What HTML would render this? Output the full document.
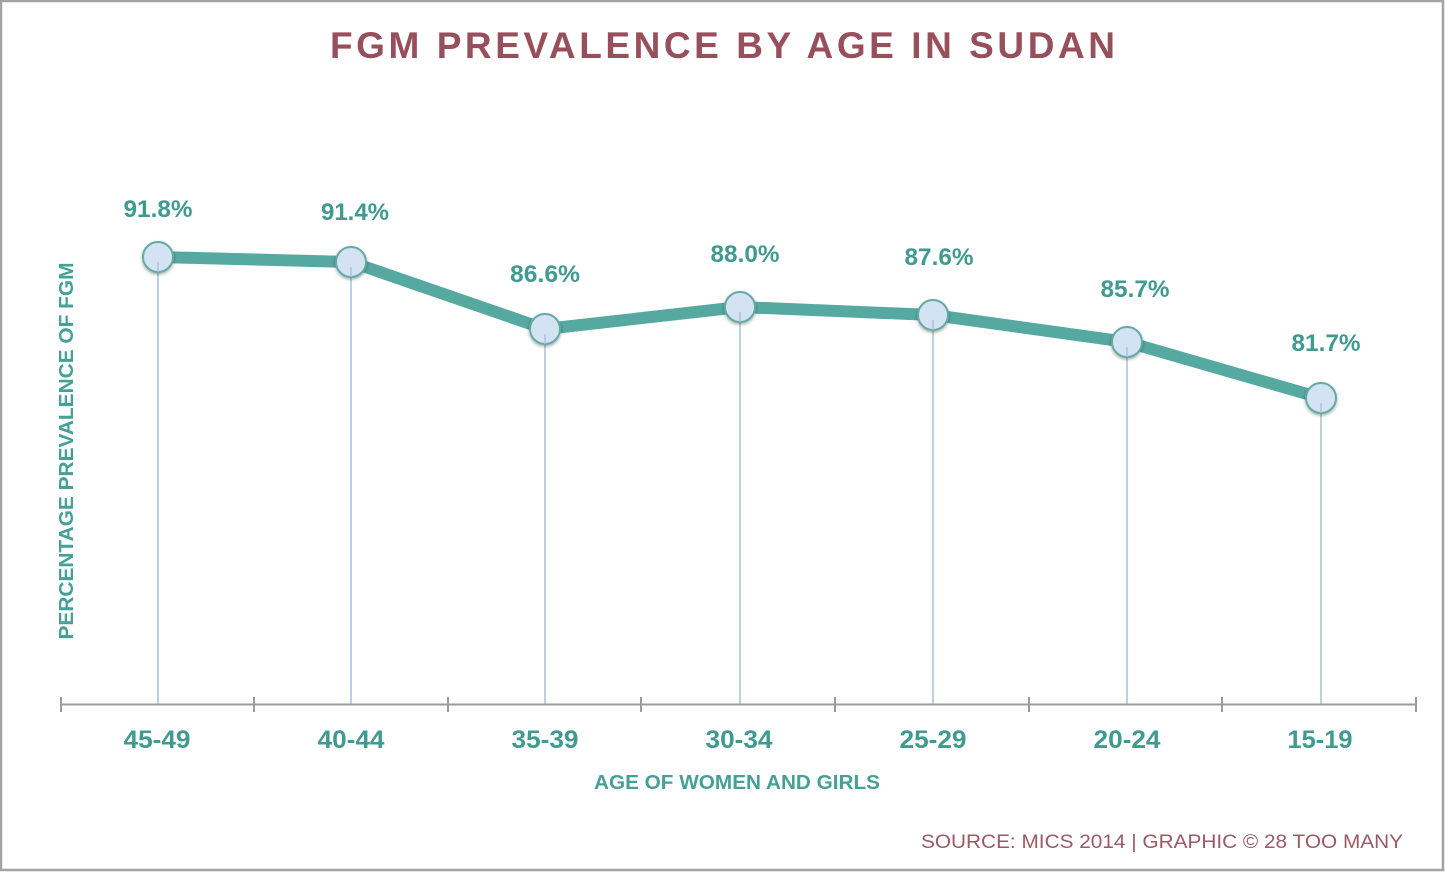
<!DOCTYPE html>
<html>
<head>
<meta charset="utf-8">
<style>
  html,body{margin:0;padding:0;background:#fff;}
  svg{display:block;}
</style>
</head>
<body>
<svg width="1445" height="872" viewBox="0 0 1445 872" xmlns="http://www.w3.org/2000/svg">
  <defs>
    <filter id="sh" x="-50%" y="-50%" width="200%" height="200%">
      <feDropShadow dx="0" dy="1.5" stdDeviation="1.5" flood-color="#000" flood-opacity="0.35"/>
    </filter>
  </defs>
  <rect x="0" y="0" width="1445" height="872" fill="#fff"/>
  <!-- border -->
  <rect x="1" y="1" width="1442" height="869" fill="none" stroke="#a3a3a3" stroke-width="2.5"/>

  <!-- title -->
  <text x="330" y="58" font-family="Liberation Sans, sans-serif" font-weight="bold" font-size="37" fill="#984f5c" textLength="785" lengthAdjust="spacing">FGM PREVALENCE BY AGE IN SUDAN</text>

  <!-- y axis title -->
  <text transform="translate(73,451) rotate(-90)" text-anchor="middle" font-family="Liberation Sans, sans-serif" font-weight="bold" font-size="20" fill="#45a096" textLength="377" lengthAdjust="spacingAndGlyphs">PERCENTAGE PREVALENCE OF FGM</text>

  <!-- drop lines -->
  <g stroke="#a9c2dc" stroke-width="1.5">
    <line x1="158" y1="257" x2="158" y2="704"/>
    <line x1="351" y1="262" x2="351" y2="704"/>
    <line x1="545" y1="329" x2="545" y2="704"/>
    <line x1="740" y1="307" x2="740" y2="704"/>
    <line x1="933" y1="315" x2="933" y2="704"/>
    <line x1="1127" y1="342" x2="1127" y2="704"/>
    <line x1="1321" y1="398" x2="1321" y2="704"/>
  </g>

  <!-- x axis -->
  <g stroke="#9b9b9b" stroke-width="2">
    <line x1="61" y1="704.5" x2="1416" y2="704.5"/>
    <line x1="61" y1="697" x2="61" y2="712"/>
    <line x1="254" y1="697" x2="254" y2="712"/>
    <line x1="448" y1="697" x2="448" y2="712"/>
    <line x1="641" y1="697" x2="641" y2="712"/>
    <line x1="835" y1="697" x2="835" y2="712"/>
    <line x1="1029" y1="697" x2="1029" y2="712"/>
    <line x1="1222" y1="697" x2="1222" y2="712"/>
    <line x1="1416" y1="697" x2="1416" y2="712"/>
  </g>

  <!-- series line -->
  <polyline points="158,257 351,262 545,329 740,307 933,315 1127,342 1321,398" fill="none" stroke="#56a9a0" stroke-width="12" stroke-linejoin="round" stroke-linecap="round"/>

  <!-- markers -->
  <g fill="#d4e3f4" stroke="#63aba3" stroke-width="2" filter="url(#sh)">
    <circle cx="158" cy="257" r="15"/>
    <circle cx="351" cy="262" r="15"/>
    <circle cx="545" cy="329" r="15"/>
    <circle cx="740" cy="307" r="15"/>
    <circle cx="933" cy="315" r="15"/>
    <circle cx="1127" cy="342" r="15"/>
    <circle cx="1321" cy="398" r="15"/>
  </g>
  <g stroke="#a9c2dc" stroke-width="1.5">
    <line x1="158" y1="262" x2="158" y2="272"/>
    <line x1="351" y1="267" x2="351" y2="277"/>
    <line x1="545" y1="334" x2="545" y2="344"/>
    <line x1="740" y1="312" x2="740" y2="322"/>
    <line x1="933" y1="320" x2="933" y2="330"/>
    <line x1="1127" y1="347" x2="1127" y2="357"/>
    <line x1="1321" y1="403" x2="1321" y2="413"/>
  </g>

  <!-- value labels -->
  <g font-family="Liberation Sans, sans-serif" font-weight="bold" font-size="24" fill="#3f9a90" text-anchor="middle">
    <text x="158" y="217" textLength="69" lengthAdjust="spacingAndGlyphs">91.8%</text>
    <text x="355" y="220" textLength="68" lengthAdjust="spacingAndGlyphs">91.4%</text>
    <text x="545" y="282" textLength="70" lengthAdjust="spacingAndGlyphs">86.6%</text>
    <text x="745" y="262" textLength="69" lengthAdjust="spacingAndGlyphs">88.0%</text>
    <text x="939" y="265" textLength="69" lengthAdjust="spacingAndGlyphs">87.6%</text>
    <text x="1135" y="297" textLength="69" lengthAdjust="spacingAndGlyphs">85.7%</text>
    <text x="1326" y="351" textLength="69" lengthAdjust="spacingAndGlyphs">81.7%</text>
  </g>

  <!-- category labels -->
  <g font-family="Liberation Sans, sans-serif" font-weight="bold" font-size="25" fill="#3f9a90" text-anchor="middle">
    <text x="157" y="748" textLength="67" lengthAdjust="spacingAndGlyphs">45-49</text>
    <text x="351" y="748" textLength="67" lengthAdjust="spacingAndGlyphs">40-44</text>
    <text x="545" y="748" textLength="67" lengthAdjust="spacingAndGlyphs">35-39</text>
    <text x="739" y="748" textLength="67" lengthAdjust="spacingAndGlyphs">30-34</text>
    <text x="933" y="748" textLength="67" lengthAdjust="spacingAndGlyphs">25-29</text>
    <text x="1127" y="748" textLength="67" lengthAdjust="spacingAndGlyphs">20-24</text>
    <text x="1320" y="748" textLength="65" lengthAdjust="spacingAndGlyphs">15-19</text>
  </g>

  <!-- x axis title -->
  <text x="594" y="789" font-family="Liberation Sans, sans-serif" font-weight="bold" font-size="20" fill="#45a096" textLength="286" lengthAdjust="spacingAndGlyphs">AGE OF WOMEN AND GIRLS</text>

  <!-- source -->
  <text x="921" y="848" font-family="Liberation Sans, sans-serif" font-size="19.5" fill="#9a5a66" textLength="482" lengthAdjust="spacingAndGlyphs">SOURCE: MICS 2014 | GRAPHIC © 28 TOO MANY</text>
</svg>
</body>
</html>
